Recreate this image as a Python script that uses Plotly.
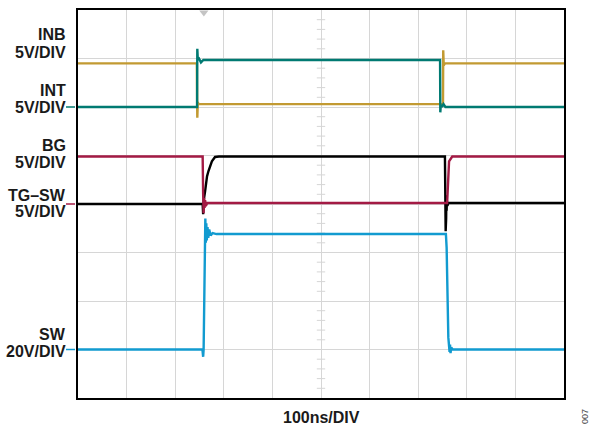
import plotly.graph_objects as go

# ---- time axis (ns), 100 ns/div, 10 divisions ----
X_RANGE = [0, 1000]

# ---- channel data (volts) ----
inb_t = [0, 244.5, 245.5, 246.5, 248, 751, 751.5, 752.5, 755, 1000]
inb_v = [4.5, 4.5, -1.1, 0.5, 0.3, 0.3, 5.85, 4.3, 4.5, 4.5]

int_t = [0, 245, 245.5, 246.5, 249, 253, 258, 745, 745.5, 746.5, 749, 752, 756, 1000]
int_v = [0, 0, 6.0, 4.9, 5.0, 4.6, 4.85, 4.85, -0.55, 0.2, 0.0, 0.3, 0.0, 0.0]

bg_t = [0, 256.5, 257.5, 258.5, 259.5, 260.5, 261.5, 263, 266, 759.5, 763.5, 770, 1000]
bg_v = [4.9, 4.9, 1.0, -0.95, 0.6, -0.4, 0.4, -0.2, 0.1, 0.1, 4.4, 4.9, 4.9]

tg_t = [0, 256.5, 257.5, 258.5, 261.5, 265.5, 268.5, 275.5, 282, 290,
        755, 755.8, 756.5, 757, 757.5, 758, 758.5, 759, 760, 762, 1000]
tg_v = [0, 0, -1.05, 0.3, 1.3, 2.85, 3.4, 4.4, 4.85, 4.9,
        4.9, 1.0, -2.8, 1.2, -1.5, 0.9, -0.7, 0.4, -0.2, 0.1, 0.1]

sw_t = [0, 256, 257.5, 258.5, 262, 263, 264, 265, 266.5, 268, 270, 273, 277, 285,
        757, 758.5, 762, 764.5, 765.5, 766.5, 768, 771, 1000]
sw_v = [0, 0, -3, 0, 54, 44, 52, 45, 50.5, 46, 49.5, 47, 48, 47.6,
        47.6, 42, 5, -1, 2, -1.5, 0.8, 0, 0]

# channel scales (V/div) and ground positions (div from bottom), 8 divisions
inb_scale, inb_ground = 5, 6
bg_scale, bg_ground = 5, 4
sw_scale, sw_ground = 20, 1
N_DIV = 8

def vrange(scale, ground):
    return [-ground * scale, (N_DIV - ground) * scale]

# labels
label_lines = [("INB", 32.5), ("5V/DIV", 50.5), ("INT", 89), ("5V/DIV", 106.5),
               ("BG", 144), ("5V/DIV", 161.5), ("TG\u2013SW", 194), ("5V/DIV", 211),
               ("SW", 334), ("20V/DIV", 351.5)]

C_INB = "#C29A32"
C_INT = "#007A72"
C_BG = "#A31A44"
C_TG = "#000000"
C_SW = "#129BD0"
GRID = "#D6D6D6"
LW = 2.4

fig = go.Figure()

# center graticule minor ticks
minor_y = [k * 0.2 for k in range(1, 40) if k % 5 != 0]
fig.add_trace(go.Scatter(x=[500] * len(minor_y), y=minor_y, mode="markers", yaxis="y",
                         marker=dict(symbol="line-ew", size=6, line=dict(width=1, color=GRID)),
                         hoverinfo="skip", showlegend=False))

fig.add_trace(go.Scatter(x=inb_t, y=inb_v, yaxis="y2", mode="lines",
                         line=dict(color=C_INB, width=LW), showlegend=False))
fig.add_trace(go.Scatter(x=int_t, y=int_v, yaxis="y2", mode="lines",
                         line=dict(color=C_INT, width=LW), showlegend=False))
fig.add_trace(go.Scatter(x=tg_t, y=tg_v, yaxis="y3", mode="lines",
                         line=dict(color=C_TG, width=LW), showlegend=False))
fig.add_trace(go.Scatter(x=bg_t, y=bg_v, yaxis="y3", mode="lines",
                         line=dict(color=C_BG, width=LW), showlegend=False))
fig.add_trace(go.Scatter(x=sw_t, y=sw_v, yaxis="y4", mode="lines",
                         line=dict(color=C_SW, width=LW), showlegend=False))

# trigger position marker
fig.add_trace(go.Scatter(x=[259], y=[N_DIV - 0.05], yaxis="y", mode="markers", cliponaxis=False,
                         marker=dict(symbol="triangle-down", size=8, color="#C4C4C4"),
                         hoverinfo="skip", showlegend=False))

hidden = dict(showgrid=False, showticklabels=False, zeroline=False, ticks="",
              overlaying="y", fixedrange=True)

# ground markers left of the graticule
shapes = []
for ax, col in (("y2", C_INT), ("y3", C_BG), ("y4", C_SW)):
    shapes.append(dict(type="line", xref="paper", yref=ax, x0=-12 / 486, x1=-3 / 486,
                       y0=0, y1=0, line=dict(color=col, width=1.5)))

fig.update_layout(
    width=590, height=429,
    margin=dict(l=78, r=26, t=8, b=31),
    paper_bgcolor="white", plot_bgcolor="white",
    xaxis=dict(range=X_RANGE, dtick=100, showgrid=True, gridcolor=GRID, gridwidth=1.3,
               showticklabels=False, ticks="", zeroline=False,
               showline=True, linecolor="black", linewidth=1.5, mirror=True),
    yaxis=dict(range=[0, N_DIV], dtick=1, showgrid=True, gridcolor=GRID, gridwidth=1.3,
               showticklabels=False, ticks="", zeroline=False,
               showline=True, linecolor="black", linewidth=1.5, mirror=True),
    yaxis2=dict(range=vrange(inb_scale, inb_ground), **hidden),
    yaxis3=dict(range=vrange(bg_scale, bg_ground), **hidden),
    yaxis4=dict(range=vrange(sw_scale, sw_ground), **hidden),
    shapes=shapes,
)

annots = []
for txt, py in label_lines:
    annots.append(dict(text="<b>%s</b>" % txt, xref="paper", yref="paper",
                       x=0, y=(398 - py) / 390, xanchor="right", yanchor="middle",
                       xshift=-10, showarrow=False,
                       font=dict(family="Liberation Sans, Arial", size=16, color="#1a1a1a")))
annots.append(dict(text="<b>100ns/DIV</b>", xref="paper", yref="paper", x=0.5,
                   y=(398 - 418) / 390, xanchor="center", yanchor="middle", showarrow=False,
                   font=dict(family="Liberation Sans, Arial", size=16, color="#1a1a1a")))
annots.append(dict(text="007", xref="paper", yref="paper", x=(585 - 78) / 486,
                   y=(398 - 417) / 390, xanchor="center", yanchor="middle", showarrow=False,
                   textangle=-90, font=dict(family="Liberation Sans, Arial", size=9, color="#444")))
fig.update_layout(annotations=annots)

fig.write_html("out.html")
